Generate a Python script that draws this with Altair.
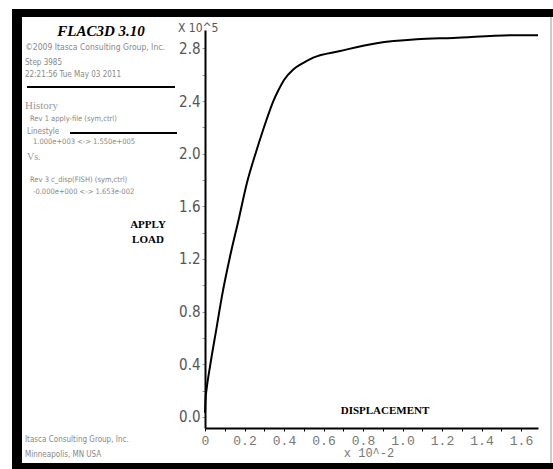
import altair as alt
import pandas as pd

# ---- data (displacement in x10^-2, load in x10^5) ----
disp = [0.0, 0.003, 0.008, 0.025, 0.059, 0.085, 0.127, 0.169, 0.211, 0.262, 0.312,
        0.346, 0.371, 0.400, 0.447, 0.498, 0.548, 0.684, 0.869, 1.072, 1.256, 1.559, 1.686]
load = [0.03, 0.14, 0.21, 0.38, 0.68, 0.91, 1.22, 1.49, 1.77, 2.03, 2.26,
        2.40, 2.48, 2.56, 2.64, 2.69, 2.73, 2.78, 2.84, 2.87, 2.88, 2.90, 2.90]

y_ticks = [0.0, 0.2, 0.4, 0.6, 0.8, 1.0, 1.2, 1.4, 1.6, 1.8, 2.0, 2.2, 2.4, 2.6, 2.8]
x_ticks = [0.0, 0.1, 0.2, 0.3, 0.4, 0.5, 0.6, 0.7, 0.8, 0.9, 1.0, 1.1, 1.2, 1.3, 1.4, 1.5, 1.6]

title_text = "FLAC3D 3.10"
legend_texts = ["©2009 Itasca Consulting Group, Inc.", "Step 3985", "22:21:56 Tue May 03 2011",
                "History", "Rev 1 apply-file (sym,ctrl)", "Linestyle",
                "1.000e+003 <-> 1.550e+005", "Vs.", "Rev 3 c_disp(FISH) (sym,ctrl)",
                "-0.000e+000 <-> 1.653e-002", "Itasca Consulting Group, Inc.", "Minneapolis, MN USA"]
y_title_lines = ["APPLY", "LOAD"]
x_title = "DISPLACEMENT"
y_mult = "X 10^5"
x_mult = "x 10^-2"

# ---- layout ----
L, T = 205, 30          # plot origin in page pixels
W, H = 333, 398         # plot area
one = pd.DataFrame({"k": [0]})

SANS_N = "Liberation Sans Narrow, DejaVu Sans Condensed, sans-serif"
SERIF = "Liberation Serif, DejaVu Serif, serif"
MONO = "Liberation Mono, DejaVu Sans Mono, monospace"

df = pd.DataFrame({"disp": disp, "load": load})

main = alt.Chart(df).mark_line(color="black", strokeWidth=2, interpolate="monotone").encode(
    x=alt.X("disp:Q",
            scale=alt.Scale(domain=[0, 1.686], nice=False, zero=False),
            axis=alt.Axis(values=x_ticks, title=None, grid=False,
                          labelExpr="datum.value == 0 ? '0' : (round(datum.value*10) % 2 == 0 ? format(datum.value, '.1f') : '')",
                          labelFont=MONO, labelFontSize=13, labelColor="#777",
                          labelPadding=3, tickSize=3, tickColor="black",
                          domainColor="black", domainWidth=2, labelFlush=False)),
    y=alt.Y("load:Q",
            scale=alt.Scale(domain=[-0.085, 2.94], nice=False, zero=False),
            axis=alt.Axis(values=y_ticks, title=None, grid=False,
                          labelExpr="round(datum.value*10) % 4 == 0 ? format(datum.value, '.1f') : ''",
                          labelFont=SANS_N, labelFontSize=15, labelColor="#555",
                          labelPadding=2, tickSize=3, tickColor="#999",
                          domainColor="black", domainWidth=2, labelFlush=False)),
)


def rect(x1, y1, x2, y2, color):
    return alt.Chart(one).mark_rect(color=color).encode(
        x=alt.value(x1 - L), x2=alt.value(x2 - L), y=alt.value(y1 - T), y2=alt.value(y2 - T))


def hline(x1, x2, y, color="black", w=2):
    return alt.Chart(one).mark_rule(color=color, strokeWidth=w).encode(
        x=alt.value(x1 - L), x2=alt.value(x2 - L), y=alt.value(y - T))


def txt(s, x, y, **kw):
    return alt.Chart(pd.DataFrame({"t": [s]})).mark_text(baseline="middle", **kw).encode(
        x=alt.value(x - L), y=alt.value(y - T), text="t:N")


layers = [main]

# frame
layers += [
    rect(12, 9, 553, 17, "black"),
    rect(12, 9, 22, 469, "black"),
    rect(12, 463, 553, 469, "black"),
    alt.Chart(one).mark_rule(color="#999", strokeWidth=1).encode(
        x=alt.value(551 - L), y=alt.value(17 - T), y2=alt.value(463 - T)),
]

# legend panel
layers.append(txt(title_text, 101, 31, font=SERIF, fontSize=15, fontStyle="italic",
                  fontWeight="bold", color="black", align="center"))
leg_pos = [(95, 47, "center", 8.5, SANS_N, "#888"),
           (25, 63, "left", 8, SANS_N, "#888"),
           (25, 75, "left", 8, SANS_N, "#888"),
           (25, 106, "left", 11, SERIF, "#999"),
           (30, 119, "left", 7.5, SANS_N, "#888"),
           (27, 132, "left", 8, SANS_N, "#888"),
           (33, 142, "left", 7.5, SANS_N, "#888"),
           (27, 157, "left", 10, SERIF, "#999"),
           (30, 180, "left", 7.5, SANS_N, "#888"),
           (33, 192, "left", 7.5, SANS_N, "#888"),
           (25, 440, "left", 8, SANS_N, "#888"),
           (25, 455, "left", 8, SANS_N, "#888")]
for s, (x, y, al, fs, fnt, col) in zip(legend_texts, leg_pos):
    layers.append(txt(s, x, y, align=al, fontSize=fs, font=fnt, color=col))

layers += [hline(27, 175, 87), hline(70, 177, 133)]

# axis titles / multipliers
for s, y in zip(y_title_lines, [225, 240]):
    layers.append(txt(s, 148, y, font=SERIF, fontSize=11, fontWeight="bold",
                      color="black", align="center"))
layers.append(txt(x_title, 385, 411, font=SERIF, fontSize=11, fontWeight="bold",
                  color="black", align="center"))
layers.append(txt(y_mult, 178, 28, font=SANS_N, fontSize=12, color="#555", align="left"))
layers.append(txt(x_mult, 369, 453, font=MONO, fontSize=12, color="#777", align="center"))

chart = alt.layer(*layers).properties(
    width=W, height=H,
    autosize=alt.AutoSizeParams(type="none"),
    padding={"left": L, "top": T, "right": 553 - L - W, "bottom": 469 - T - H},
    background="white",
).configure_view(stroke=None)

chart.save("out.html", embed_options={"renderer": "svg", "actions": False})
